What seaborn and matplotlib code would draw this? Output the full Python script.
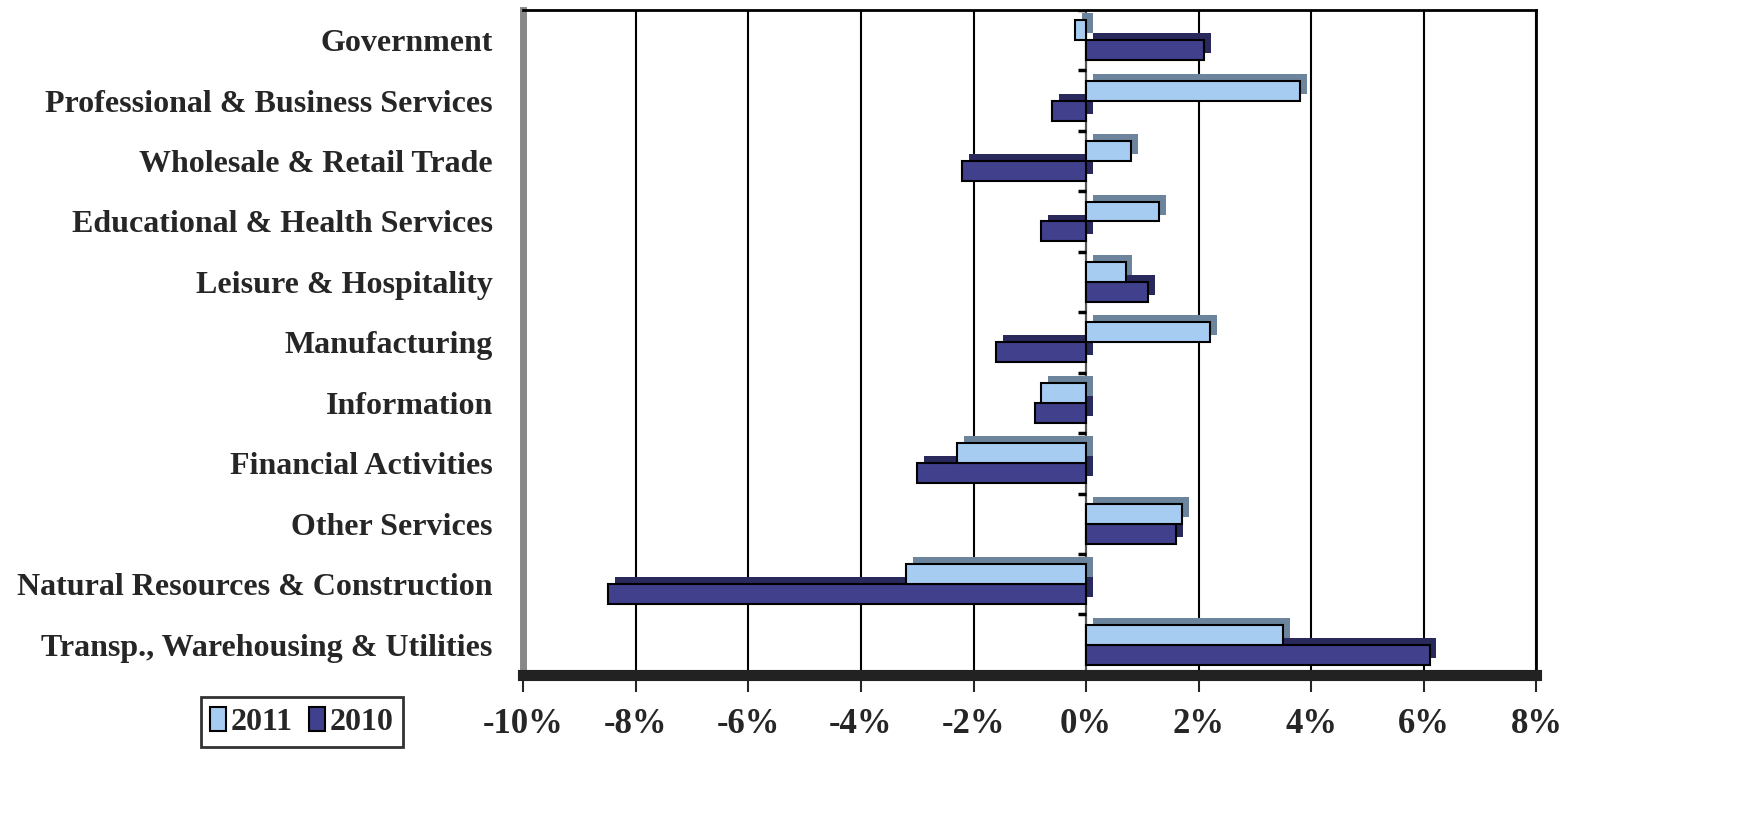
import matplotlib
matplotlib.use('Agg')
import numpy as np
import pandas as pd
import matplotlib.pyplot as plt
import matplotlib.patheffects as pe
import seaborn as sns
from matplotlib.ticker import PercentFormatter, MultipleLocator

# Employment growth by sector (percent)
sectors = [
    'Government',
    'Professional & Business Services',
    'Wholesale & Retail Trade',
    'Educational & Health Services',
    'Leisure & Hospitality',
    'Manufacturing',
    'Information',
    'Financial Activities',
    'Other Services',
    'Natural Resources & Construction',
    'Transp., Warehousing & Utilities',
]
growth_2011 = [-0.2, 3.8, 0.8, 1.3, 0.7, 2.2, -0.8, -2.3, 1.7, -3.2, 3.5]
growth_2010 = [2.1, -0.6, -2.2, -0.8, 1.1, -1.6, -0.9, -3.0, 1.6, -8.5, 6.1]
years = ['2011', '2010']
colors = {'2011': '#99CCFF', '2010': '#333399'}

df = pd.DataFrame({
    'sector': sectors * 2,
    'year': ['2011'] * len(sectors) + ['2010'] * len(sectors),
    'growth': growth_2011 + growth_2010,
})

sns.set_style('white')
plt.rcParams['font.family'] = ['Liberation Serif', 'DejaVu Serif']
plt.rcParams['font.weight'] = 'bold'
plt.rcParams['axes.unicode_minus'] = False

fig = plt.figure(figsize=(17.44, 8.25), dpi=100)
ax = fig.add_axes([0.300, 0.182, 0.581, 0.806])

sns.barplot(data=df, y='sector', x='growth', hue='year', order=sectors,
            hue_order=years, palette=colors, orient='h', width=0.66,
            edgecolor='black', linewidth=1.5, ax=ax)

# fake 3D depth: darker copy pushed up/right behind each bar
for zo, cont in zip([4, 3], ax.containers):
    for p in cont:
        p.set_zorder(zo)
        p.set_path_effects([pe.SimplePatchShadow(offset=(5, 5), rho=0.65, alpha=1.0),
                            pe.Normal()])

ax.set_xlim(-10, 8)
ax.xaxis.set_major_locator(MultipleLocator(2))
ax.xaxis.set_major_formatter(PercentFormatter(100, decimals=0))
ax.set_axisbelow(True)
ax.xaxis.grid(True, color='black', linewidth=1.5)
ax.axvline(0, color='#555555', linewidth=1.5, zorder=2)
# small category ticks along the zero line
ax.hlines(np.arange(len(sectors) + 1) - 0.5, -0.15, 0, color='black', linewidth=2.5, zorder=2)
ax.set_ylim(len(sectors) - 0.5, -0.5)

ax.set_xlabel('')
ax.set_ylabel('')
ax.tick_params(axis='y', length=0, pad=22, labelsize=23)
ax.tick_params(axis='x', bottom=True, length=12, width=1.5, pad=12, labelsize=25, direction='out')

for side in ['top', 'right']:
    ax.spines[side].set_color('black')
    ax.spines[side].set_linewidth(2)
ax.spines['left'].set_color('#888888')
ax.spines['left'].set_linewidth(5)
ax.spines['bottom'].set_color('#222222')
ax.spines['bottom'].set_linewidth(8)

handles, labels = ax.get_legend_handles_labels()
ax.legend(handles, labels, loc='center', bbox_to_anchor=(302 / 1744, 1 - 722 / 825),
          bbox_transform=fig.transFigure, ncol=2, frameon=True, fancybox=False,
          edgecolor='black', fontsize=23, handlelength=0.5, handleheight=0.8,
          handletextpad=0.15, columnspacing=0.5, borderpad=0.3)
ax.get_legend().get_frame().set_linewidth(2)

fig.savefig('out.png', dpi=100)
